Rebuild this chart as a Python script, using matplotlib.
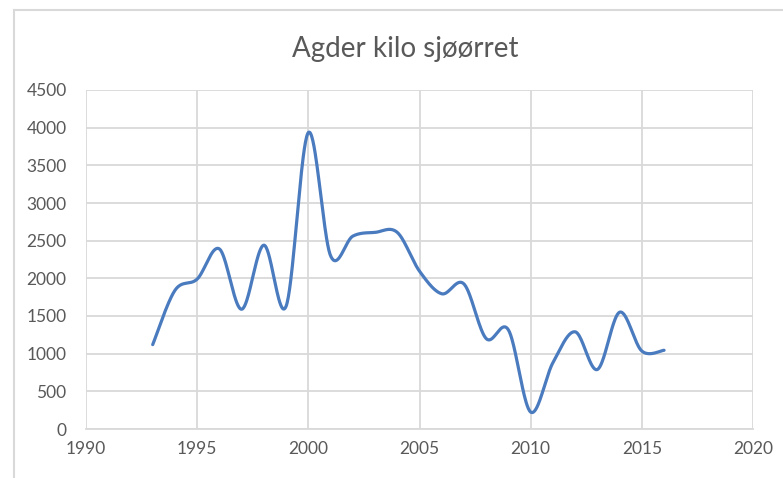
import numpy as np
import matplotlib
matplotlib.use("Agg")
import matplotlib.pyplot as plt
from matplotlib.lines import Line2D

years = [1993, 1994, 1995, 1996, 1997, 1998, 1999, 2000, 2001, 2002, 2003, 2004,
         2005, 2006, 2007, 2008, 2009, 2010, 2011, 2012, 2013, 2014, 2015, 2016]
kilo = [1120, 1840, 1990, 2390, 1590, 2440, 1630, 3935, 2300, 2560, 2610, 2610,
        2095, 1795, 1925, 1200, 1315, 225, 880, 1290, 790, 1550, 1035, 1045]

title = "Agder kilo sjøørret"
xticks = [1990, 1995, 2000, 2005, 2010, 2015, 2020]
yticks = [0, 500, 1000, 1500, 2000, 2500, 3000, 3500, 4000, 4500]

TEXT = "#595959"
GRID = "#D9D9D9"
LINE = "#4A7BBF"

plt.rcParams['font.family'] = ['Lato', 'DejaVu Sans']


def excel_smooth(x, y, n=40):
    """Excel-style smoothed line: cubic Bezier with Catmull-Rom control points."""
    x = np.asarray(x, float)
    y = np.asarray(y, float)
    px = np.concatenate([[x[0]], x, [x[-1]]])
    py = np.concatenate([[y[0]], y, [y[-1]]])
    ox, oy = [], []
    t = np.linspace(0, 1, n)
    for i in range(1, len(px) - 2):
        p0 = np.array([px[i], py[i]])
        p3 = np.array([px[i + 1], py[i + 1]])
        c1 = p0 + (np.array([px[i + 1], py[i + 1]]) - np.array([px[i - 1], py[i - 1]])) / 6
        c2 = p3 - (np.array([px[i + 2], py[i + 2]]) - np.array([px[i], py[i]])) / 6
        b = ((1 - t) ** 3)[:, None] * p0 + (3 * (1 - t) ** 2 * t)[:, None] * c1 \
            + (3 * (1 - t) * t ** 2)[:, None] * c2 + (t ** 3)[:, None] * p3
        ox.extend(b[:, 0])
        oy.extend(b[:, 1])
    return np.array(ox), np.array(oy)


fig = plt.figure(figsize=(7.83, 4.78), dpi=100)
ax = fig.add_axes([86 / 783, 1 - 429 / 478, (753 - 86) / 783, (429 - 90) / 478])

sx, sy = excel_smooth(years, kilo)
ax.plot(sx, sy, color=LINE, lw=2.3, solid_capstyle='round', zorder=3)

ax.set_xlim(xticks[0], xticks[-1])
ax.set_ylim(yticks[0], yticks[-1])
ax.set_xticks(xticks)
ax.set_yticks(yticks)
ax.grid(True, color=GRID, lw=1.3)
ax.set_axisbelow(True)
for s in ['top', 'right', 'left']:
    ax.spines[s].set_visible(False)
ax.spines['bottom'].set_color(GRID)
ax.spines['bottom'].set_linewidth(1.3)
ax.tick_params(axis='both', length=0, labelsize=12.5, colors=TEXT)
ax.tick_params(axis='y', pad=14)
ax.tick_params(axis='x', pad=9)

fig.text(405 / 783, 1 - 57 / 478, title, ha='center', va='baseline',
         fontsize=20, color=TEXT)

# chart border (top and left edges visible in the reference)
fig.add_artist(Line2D([14 / 783, 14 / 783], [0, 1 - 10 / 478], transform=fig.transFigure,
                      color=GRID, lw=1.5))
fig.add_artist(Line2D([14 / 783, 1], [1 - 10 / 478, 1 - 10 / 478], transform=fig.transFigure,
                      color=GRID, lw=1.5))

fig.savefig("out.png", dpi=100)
